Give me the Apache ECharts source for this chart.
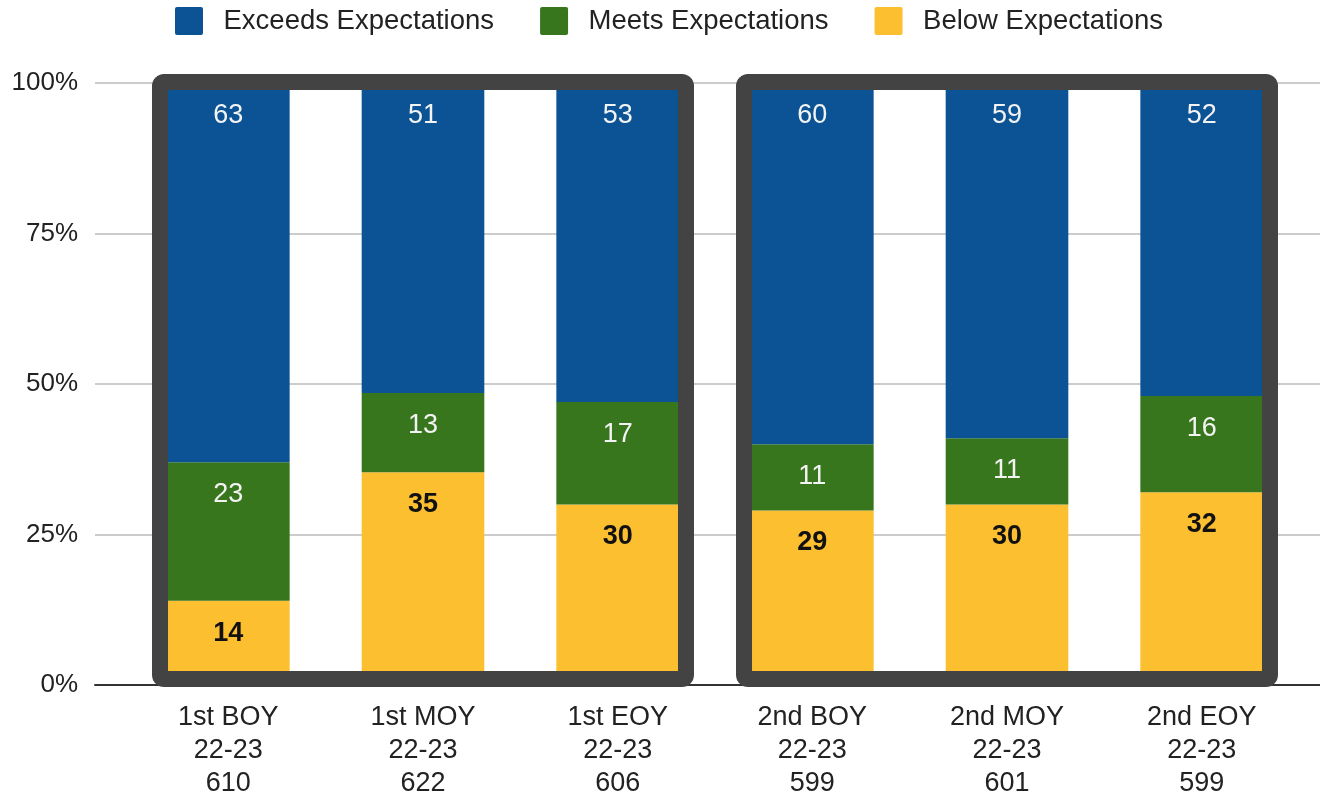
<!DOCTYPE html>
<html>
<head>
<meta charset="utf-8">
<script src="https://cdn.jsdelivr.net/npm/echarts@6/dist/echarts.min.js"></script>
<style>
html,body{margin:0;padding:0;background:#fff;}
#main{width:1320px;height:797px;}
</style>
</head>
<body>
<div id="main"></div>
<script>
// ---- data ----
const categories = ['1st BOY\n22-23\n610', '1st MOY\n22-23\n622', '1st EOY\n22-23\n606',
                    '2nd BOY\n22-23\n599', '2nd MOY\n22-23\n601', '2nd EOY\n22-23\n599'];
const exceeds = [63, 51, 53, 60, 59, 52];
const meets   = [23, 13, 17, 11, 11, 16];
const below   = [14, 35, 30, 29, 30, 32];
const yTicks  = [0, 25, 50, 75, 100];
const groups  = [[0, 2], [3, 5]];

const totals = categories.map((_, i) => exceeds[i] + meets[i] + below[i]);
const pct = arr => arr.map((v, i) => ({ value: v / totals[i] * 100, raw: v }));

const FONT = '"Liberation Sans", Arial, sans-serif';
const chart = echarts.init(document.getElementById('main'));

const lightLabel = {
  show: true, position: 'insideTop', distance: 19,
  color: '#f3f3f3', fontSize: 27, fontFamily: FONT,
  formatter: p => p.data.raw
};
const darkLabel = Object.assign({}, lightLabel, { color: '#111', fontWeight: 'bold' });

chart.setOption({
  animation: false,
  legend: {
    data: ['Exceeds Expectations', 'Meets Expectations', 'Below Expectations'],
    left: 170, top: 2,
    itemWidth: 29, itemHeight: 28, itemGap: 46,
    icon: 'path://M2,0 H26 A2,2 0 0 1 28,2 V26 A2,2 0 0 1 26,28 H2 A2,2 0 0 1 0,26 V2 A2,2 0 0 1 2,0 Z',
    textStyle: { fontSize: 27.5, fontFamily: FONT, color: '#222', padding: [0, 0, 0, 15] }
  },
  grid: [
    { left: 95, right: 0, top: 83, bottom: 112, outerBoundsMode: 'none', containLabel: false },
    { left: 131, right: 21, top: 83, bottom: 112, outerBoundsMode: 'none', containLabel: false }
  ],
  xAxis: [
    { gridIndex: 0, type: 'value', min: 0, max: 1,
      axisLine: { show: true, lineStyle: { color: '#333', width: 2 } },
      axisTick: { show: false }, axisLabel: { show: false }, splitLine: { show: false } },
    { gridIndex: 1, type: 'category', data: categories,
      axisLine: { show: false }, axisTick: { show: false },
      axisLabel: { fontSize: 27, fontFamily: FONT, color: '#222', lineHeight: 33, margin: 16 } }
  ],
  yAxis: [
    { gridIndex: 0, type: 'value', min: 0, max: 100, interval: 25,
      axisLine: { show: false }, axisTick: { show: false },
      axisLabel: { formatter: '{value}%', fontSize: 26, fontFamily: FONT, color: '#222', margin: 17 },
      splitLine: { lineStyle: { color: '#cccccc', width: 2 } } },
    { gridIndex: 1, type: 'value', min: 0, max: 100, show: false, splitLine: { show: false } }
  ],
  series: [
    { name: 'Below Expectations', type: 'bar', stack: 's', xAxisIndex: 1, yAxisIndex: 1,
      barWidth: '63%', itemStyle: { color: '#fbbf30' }, label: darkLabel, data: pct(below) },
    { name: 'Meets Expectations', type: 'bar', stack: 's', xAxisIndex: 1, yAxisIndex: 1,
      barWidth: '63%', itemStyle: { color: '#38761d' }, label: lightLabel, data: pct(meets) },
    { name: 'Exceeds Expectations', type: 'bar', stack: 's', xAxisIndex: 1, yAxisIndex: 1,
      barWidth: '63%', itemStyle: { color: '#0b5394' }, label: lightLabel, data: pct(exceeds) }
  ]
});

// group boxes positioned from the axis scales
const bandW = chart.convertToPixel({ xAxisIndex: 1 }, 1) - chart.convertToPixel({ xAxisIndex: 1 }, 0);
const barW = bandW * 0.63;
const yTop = chart.convertToPixel({ yAxisIndex: 1 }, 100);
const yBot = chart.convertToPixel({ yAxisIndex: 1 }, 0);
const bw = 16;
const boxes = groups.map(([a, b]) => {
  const l = chart.convertToPixel({ xAxisIndex: 1 }, a) - barW / 2 - 15;
  const r = chart.convertToPixel({ xAxisIndex: 1 }, b) + barW / 2 + 15;
  const t = yTop - 9, btm = yBot + 2;
  return {
    type: 'rect', z: 100,
    shape: { x: l + bw / 2, y: t + bw / 2, width: r - l - bw, height: btm - t - bw, r: 4 },
    style: { fill: 'none', stroke: '#434343', lineWidth: bw, lineJoin: 'round' }
  };
});
chart.setOption({ graphic: boxes });
</script>
</body>
</html>
